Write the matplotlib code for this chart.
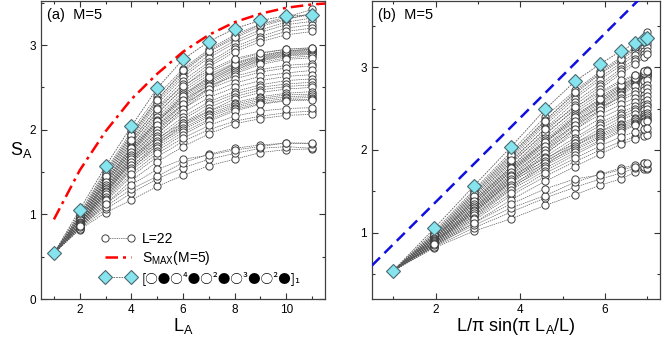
import numpy as np
import matplotlib
matplotlib.use("Agg")
import matplotlib.pyplot as plt
from matplotlib.lines import Line2D

plt.rcParams['font.family'] = ['Liberation Sans', 'DejaVu Sans']
plt.rcParams['mathtext.fontset'] = 'custom'
plt.rcParams['mathtext.rm'] = 'Liberation Sans'
plt.rcParams['mathtext.it'] = 'Liberation Sans'

L = 22
LA = np.arange(1, 12)

# entanglement entropy curves S_A(L_A), L=22, M=5
curves = [
    # top group
    [0.54, 1.02, 1.52, 1.98, 2.40, 2.72, 2.95, 3.12, 3.25, 3.33, 3.42],
    [0.54, 1.00, 1.50, 1.95, 2.36, 2.68, 2.92, 3.08, 3.22, 3.30, 3.38],
    [0.54, 0.98, 1.47, 1.92, 2.33, 2.65, 2.88, 3.05, 3.18, 3.27, 3.32],
    [0.54, 0.97, 1.45, 1.90, 2.30, 2.62, 2.85, 3.02, 3.15, 3.24, 3.28],
    [0.54, 0.95, 1.42, 1.86, 2.26, 2.58, 2.80, 2.98, 3.10, 3.20, 3.24],
    [0.54, 0.94, 1.40, 1.83, 2.22, 2.54, 2.77, 2.95, 3.07, 3.16, 3.20],
    [0.54, 0.93, 1.38, 1.80, 2.18, 2.50, 2.74, 2.92, 3.04, 3.12, 3.16],
    [0.54, 0.99, 1.48, 1.94, 2.35, 2.70, 2.93, 3.10, 3.24, 3.31, 3.36],
    # dense band ending near 2.9
    [0.54, 0.96, 1.43, 1.85, 2.20, 2.48, 2.68, 2.82, 2.90, 2.95, 2.97],
    [0.54, 0.95, 1.40, 1.80, 2.15, 2.45, 2.65, 2.79, 2.88, 2.93, 2.95],
    [0.54, 0.94, 1.38, 1.78, 2.12, 2.42, 2.62, 2.77, 2.86, 2.92, 2.94],
    [0.54, 0.93, 1.36, 1.76, 2.10, 2.40, 2.60, 2.75, 2.85, 2.91, 2.93],
    [0.54, 0.92, 1.34, 1.74, 2.08, 2.38, 2.58, 2.74, 2.84, 2.90, 2.92],
    [0.54, 0.91, 1.32, 1.72, 2.05, 2.35, 2.57, 2.73, 2.83, 2.89, 2.91],
    [0.54, 0.90, 1.30, 1.70, 2.02, 2.32, 2.55, 2.71, 2.82, 2.88, 2.90],
    [0.54, 0.89, 1.28, 1.67, 2.00, 2.30, 2.53, 2.70, 2.81, 2.87, 2.89],
    [0.54, 0.88, 1.26, 1.64, 1.97, 2.27, 2.50, 2.68, 2.79, 2.85, 2.87],
    [0.54, 0.87, 1.24, 1.62, 1.94, 2.24, 2.48, 2.66, 2.77, 2.83, 2.85],
    [0.54, 0.92, 1.35, 1.75, 2.09, 2.40, 2.62, 2.78, 2.87, 2.93, 2.95],
    [0.54, 0.97, 1.45, 1.88, 2.25, 2.52, 2.70, 2.84, 2.91, 2.95, 2.96],
    # middle group
    [0.54, 0.94, 1.38, 1.78, 2.10, 2.35, 2.52, 2.63, 2.71, 2.76, 2.78],
    [0.54, 0.93, 1.35, 1.74, 2.05, 2.30, 2.48, 2.60, 2.68, 2.73, 2.75],
    [0.54, 0.91, 1.32, 1.70, 2.00, 2.25, 2.43, 2.55, 2.63, 2.67, 2.70],
    [0.54, 0.90, 1.30, 1.66, 1.96, 2.20, 2.38, 2.50, 2.58, 2.63, 2.65],
    [0.54, 0.89, 1.27, 1.62, 1.92, 2.15, 2.33, 2.45, 2.53, 2.58, 2.60],
    [0.54, 0.88, 1.25, 1.60, 1.88, 2.12, 2.30, 2.42, 2.50, 2.54, 2.56],
    [0.54, 0.87, 1.22, 1.56, 1.85, 2.08, 2.26, 2.39, 2.47, 2.51, 2.53],
    [0.54, 0.86, 1.20, 1.53, 1.82, 2.05, 2.22, 2.36, 2.44, 2.48, 2.50],
    # lower main group
    [0.54, 0.90, 1.30, 1.68, 1.90, 2.08, 2.22, 2.32, 2.39, 2.43, 2.45],
    [0.54, 0.89, 1.28, 1.65, 1.87, 2.05, 2.19, 2.30, 2.37, 2.41, 2.42],
    [0.54, 0.88, 1.26, 1.62, 1.84, 2.02, 2.17, 2.28, 2.35, 2.39, 2.40],
    [0.54, 0.87, 1.24, 1.58, 1.81, 2.00, 2.15, 2.26, 2.33, 2.37, 2.38],
    [0.54, 0.86, 1.21, 1.55, 1.78, 1.97, 2.12, 2.24, 2.31, 2.35, 2.36],
    [0.54, 0.85, 1.18, 1.52, 1.75, 1.94, 2.10, 2.22, 2.30, 2.34, 2.35],
    [0.54, 0.84, 1.15, 1.45, 1.68, 1.86, 2.00, 2.10, 2.16, 2.20, 2.22],
    [0.54, 0.83, 1.12, 1.40, 1.62, 1.80, 1.95, 2.07, 2.13, 2.17, 2.18],
    [0.54, 0.85, 1.17, 1.48, 1.72, 1.90, 2.05, 2.16, 2.22, 2.25, 2.26],
    # lowest group
    [0.54, 0.82, 1.02, 1.17, 1.33, 1.46, 1.575, 1.65, 1.73, 1.765, 1.773],
    [0.54, 0.83, 1.06, 1.25, 1.42, 1.55, 1.65, 1.72, 1.78, 1.80, 1.78],
    [0.54, 0.85, 1.09, 1.30, 1.45, 1.61, 1.71, 1.78, 1.82, 1.84, 1.836],
    [0.54, 0.86, 1.12, 1.35, 1.53, 1.65, 1.70, 1.76, 1.80, 1.845, 1.84],
]

# highlighted configuration (diamonds)
diamond = [0.54, 1.055, 1.568, 2.04, 2.49, 2.83, 3.04, 3.195, 3.29, 3.345, 3.35]

# S_MAX(M=5)
smax_x = [1, 2, 3, 4, 5, 6, 7, 8, 9, 10, 11, 11.5]
smax_y = [0.94, 1.52, 1.98, 2.36, 2.66, 2.92, 3.12, 3.27, 3.37, 3.44, 3.48, 3.49]

# blue dashed reference line in panel (b)
blue_x = [0.5, 7.3]
blue_y = [0.605, 4.07]

xb = L / np.pi * np.sin(np.pi * LA / L)

fig = plt.figure(figsize=(6.64, 3.44), dpi=100)
axa = fig.add_axes([41/664, 45/344, 284/664, 298/344])
axb = fig.add_axes([372/664, 45/344, 288/664, 298/344])

line_kw = dict(color='0.35', lw=0.5, ls=(0, (2, 1.2)), zorder=2)
mk_kw = dict(ls='none', marker='o', ms=5.2, mfc='white', mec='0.25', mew=0.7, zorder=3)
dm_kw = dict(marker='D', ms=7, mfc='#86e4ee', mec='#4a6a70', mew=0.8, zorder=5)

for ax, xv in ((axa, LA), (axb, xb)):
    for c in curves:
        ax.plot(xv, c, **line_kw)
    for c in curves:
        ax.plot(xv, c, **mk_kw)
    ax.plot(xv, diamond, color='0.35', lw=0.6, ls=(0, (2, 1.2)), zorder=4)
    ax.plot(xv, diamond, ls='none', **dm_kw)

axa.plot(smax_x, smax_y, color='red', lw=1.8, ls=(0, (5, 2, 1.2, 2)), zorder=6)
axb.plot(blue_x, blue_y, color='#1010e0', lw=1.8, ls=(0, (4.5, 2.5)), zorder=6)

axa.set_xlim(0.5, 11.5)
axa.set_ylim(0, 3.52)
axa.set_xticks([2, 4, 6, 8, 10])
axa.set_xticks(range(1, 12, 2), minor=True)
axa.set_yticks([0, 1, 2, 3])
axa.set_yticks([0.5, 1.5, 2.5, 3.5], minor=True)

axb.set_xlim(0.5, 7.3)
axb.set_ylim(0.2, 3.8)
axb.set_xticks([2, 4, 6])
axb.set_xticks([1, 3, 5, 7], minor=True)
axb.set_yticks([1, 2, 3])
axb.set_yticks([0.5, 1.5, 2.5, 3.5], minor=True)

for ax in (axa, axb):
    ax.tick_params(which='both', direction='in', top=True, right=True,
                   labelsize=8.5, width=0.8, color='0.2')
    ax.tick_params(which='major', length=4)
    ax.tick_params(which='minor', length=2.5)
    for s in ax.spines.values():
        s.set_linewidth(0.9)
        s.set_color('0.25')

axa.set_xlabel(r'L$_\mathregular{A}$', fontsize=13, labelpad=0)
axa.set_ylabel(r'S$_\mathregular{A}$', fontsize=13, rotation=0, labelpad=6, va='center')
axb.set_xlabel(r'L/$\pi$ sin($\pi$ L$_\mathregular{A}$/L)', fontsize=13, labelpad=0)

axa.text(0.02, 0.975, '(a)  M=5', transform=axa.transAxes, fontsize=10.5, va='top', ha='left')
axb.text(0.02, 0.975, '(b)  M=5', transform=axb.transAxes, fontsize=10.5, va='top', ha='left')

h1 = Line2D([], [], color='0.35', lw=0.5, ls=(0, (2, 1.2)), marker='o', ms=5.2,
            mfc='white', mec='0.25', mew=0.7)
h2 = Line2D([], [], color='red', lw=1.8, ls=(0, (5, 2, 1.2, 2)))
h3 = Line2D([], [], color='0.35', lw=0.6, ls=(0, (2, 1.2)), **dm_kw)
lab3 = '[\u25cb\u25cf\u25cb\u2074\u25cf\u25cb\u00b2\u25cf\u25cb\u00b3\u25cf\u25cb\u00b2\u25cf]\u2081'
leg = axa.legend([h1, h2, h3], ['L=22', r'S$_\mathregular{MAX}$(M=5)', lab3],
                 loc='lower left', bbox_to_anchor=(0.18, 0.02), frameon=False,
                 numpoints=2, handlelength=2.5, fontsize=10, labelspacing=0.25,
                 handletextpad=0.5, borderaxespad=0.2)
texts = leg.get_texts()
texts[2].set_family(['Noto Sans CJK JP', 'DejaVu Sans'])
texts[2].set_fontsize(9)

fig.savefig('out.png', dpi=100)
